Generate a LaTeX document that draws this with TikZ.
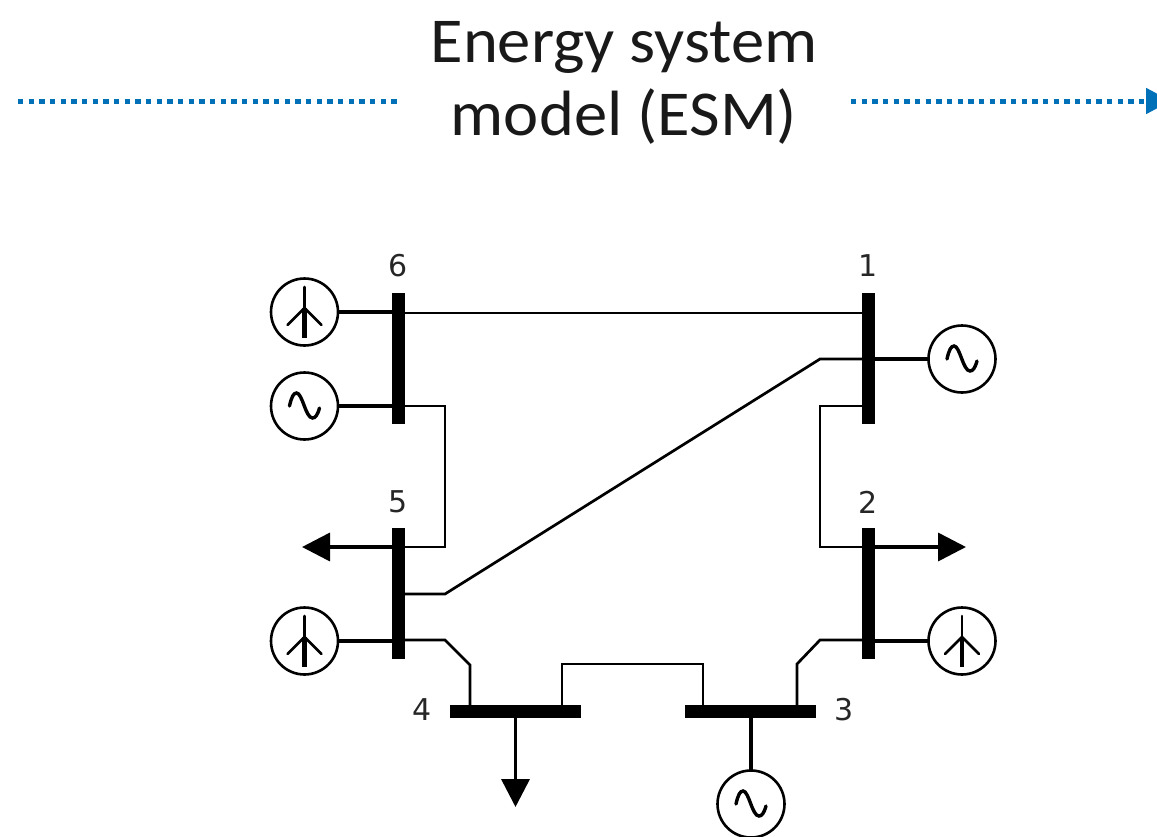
\documentclass[tikz,border=0pt]{standalone}
\usepackage{fontspec}
\setmainfont{Carlito}
\newfontfamily\labelfont{DejaVu Sans}
\newfontfamily\titlefont[FakeStretch=1.04]{Carlito}
\usetikzlibrary{arrows.meta}
\definecolor{linkblue}{HTML}{0070B8}
\tikzset{
  x=1pt,y=-1pt,
  busbar/.style={fill=black,draw=none,inner sep=0pt,outer sep=0pt},
  vbus/.style={busbar,minimum width=13pt,minimum height=131pt},
  hbus/.style={busbar,minimum width=131pt,minimum height=13pt},
  unit/.style={circle,draw=black,line width=2.6pt,fill=white,minimum size=67pt,inner sep=0pt,outer sep=0pt},
  stub/.style={line width=3.6pt,black},
  wire/.style={line width=2.7pt,black,line join=miter},
  load/.style={line width=3.6pt,black,-{Triangle[length=28pt,width=28pt]}},
  dots/.style={line width=5pt,linkblue,dash pattern=on 5.3pt off 5.37pt},
  num/.style={font=\labelfont\fontsize{30}{30}\selectfont,text=black!85,inner sep=0pt},
  title/.style={font=\titlefont\fontsize{64}{73}\selectfont,align=center,text=black!90,minimum width=454pt,inner xsep=0pt,inner ysep=0pt,outer sep=0pt},
  wind/.pic={
    \draw[line width=2.6pt,line cap=round] (0,-25) -- (0,-4);
    \draw[line width=2.6pt,line cap=round] (-17,13) -- (0,-4) -- (17,13);
    \draw[line width=4.5pt] (0,-4) -- (0,26);
  },
  wave/.pic={
    \draw[line width=3.4pt,line cap=round] (-15,0) .. controls (-13,-9) and (-11,-13) .. (-8,-13)
      .. controls (-2,-13) and (1,12) .. (8,12) .. controls (11,12) and (13,9) .. (15,2);
  }
}
\begin{document}
\begin{tikzpicture}
\useasboundingbox (0,0) rectangle (1157,836);
\clip (0,0) rectangle (1157,836);

% title and dotted arrow
\node[title] (ttl) at (624,83) {Energy system\\model (ESM)};
\coordinate (dotL) at (18,101);
\coordinate (dotR) at (1171,101);
\draw[dots] (dotL) -- (dotL -| ttl.west);
\draw[dots,-{Triangle[length=25pt,width=25pt,fill=linkblue]}] (dotR -| ttl.east) -- (dotR);

% buses
\node[vbus] (b6) at (398.5,358.5) {};
\node[vbus] (b1) at (868,358.5) {};
\node[vbus] (b5) at (398.5,593.5) {};
\node[vbus] (b2) at (868,593.5) {};
\node[hbus] (b4) at (515.5,711.5) {};
\node[hbus] (b3) at (750,711.5) {};

% bus labels
\node[num] (n6) at (398.5,266) {6};
\node[num] (n1) at (868,266) {1};
\node[num] (n5) at (398.5,502) {5};
\node[num] (n2) at (868,502) {2};
\node[num] (n4) at (422,710) {4};
\node[num] (n3) at (844,710) {3};

% units
\node[unit] (w6) at (304.5,312) {};
\node[unit] (g6) at (304.5,406) {};
\node[unit] (w5) at (304.5,641) {};
\node[unit] (g1) at (962,359) {};
\node[unit] (w2) at (962,641) {};
\node[unit] (g3) at (751,804) {};
\pic at (w6) {wind};
\pic at (w5) {wind};
\pic at (w2) {wind};
\pic at (g6) {wave};
\pic at (g1) {wave};
\pic at (g3) {wave};

% unit stubs
\draw[stub] (w6.east) -- (w6.east -| b6.center);
\draw[stub] (g6.east) -- (g6.east -| b6.center);
\draw[stub] (w5.east) -- (w5.east -| b5.center);
\draw[stub] (g1.west) -- (g1.west -| b1.center);
\draw[stub] (w2.west) -- (w2.west -| b2.center);
\draw[stub] (g3.north) -- (g3.north |- b3.center);

% loads
\coordinate (t5) at (302,547);
\coordinate (t2) at (966,547);
\coordinate (t4) at (515.5,807);
\draw[load] (t5 -| b5.center) -- (t5);
\draw[load] (t2 -| b2.center) -- (t2);
\draw[load] (b4.center) -- (t4);

% lines
\coordinate (a61) at (398.5,313);
\coordinate (a65) at (445,406);
\coordinate (c65) at (445,547);
\coordinate (a15) at (820,359);
\coordinate (c15) at (445,594);
\coordinate (a12) at (820,406);
\coordinate (c12) at (820,547);
\coordinate (a54) at (445,640);
\coordinate (c54) at (470,665);
\coordinate (a23) at (820,640);
\coordinate (c23) at (797,664);
\coordinate (a43) at (562,664);
\coordinate (c43) at (703,664);
\draw[wire] (a61) -- (a61 -| b1.center);
\draw[wire] (a65 -| b6.center) -- (a65) -- (c65) -- (c65 -| b5.center);
\draw[wire] (a15 -| b1.center) -- (a15) -- (c15) -- (c15 -| b5.center);
\draw[wire] (a12 -| b1.center) -- (a12) -- (c12) -- (c12 -| b2.center);
\draw[wire] (a54 -| b5.center) -- (a54) -- (c54) -- (c54 |- b4.center);
\draw[wire] (a23 -| b2.center) -- (a23) -- (c23) -- (c23 |- b3.center);
\draw[wire] (a43 |- b4.center) -- (a43) -- (c43) -- (c43 |- b3.center);
\end{tikzpicture}
\end{document}
